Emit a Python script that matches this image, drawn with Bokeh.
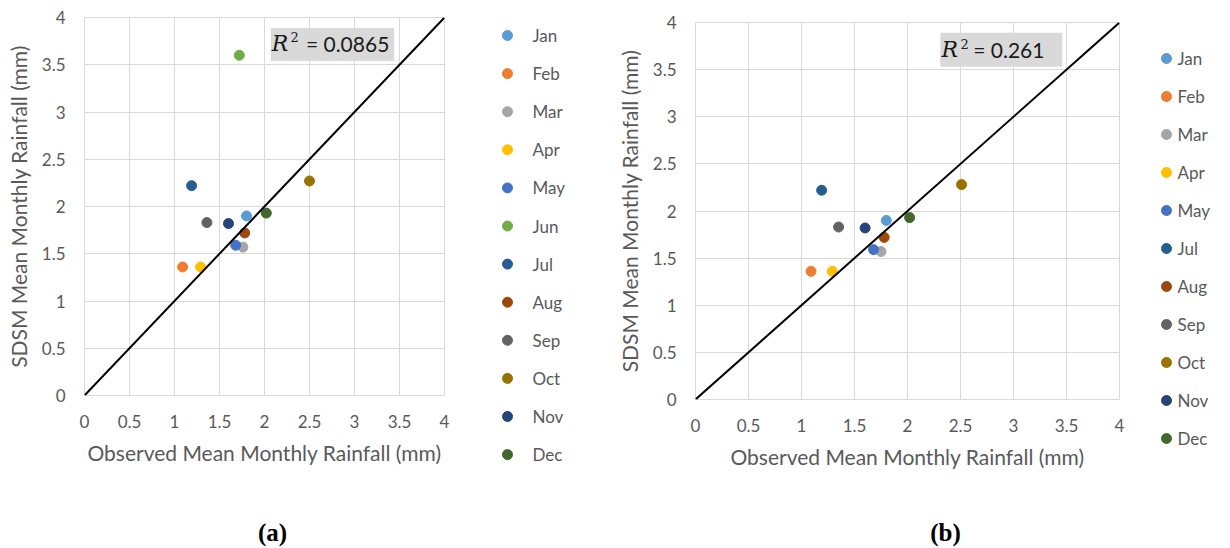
from bokeh.plotting import figure
from bokeh.models import FixedTicker, Slope, BoxAnnotation, Label, Range1d
from bokeh.layouts import column, row
from bokeh.embed import file_html
from bokeh.resources import INLINE
from bokeh.core.properties import value

# ---------------- data ----------------
months = ["Jan", "Feb", "Mar", "Apr", "May", "Jun", "Jul", "Aug", "Sep", "Oct", "Nov", "Dec"]
month_colors = ["#5B9BD5", "#ED7D31", "#A5A5A5", "#FFC000", "#4472C4", "#70AD47",
                "#255E91", "#9E480E", "#636363", "#997300", "#264478", "#43682B"]

# panel (a)
obs_a = [1.80, 1.09, 1.76, 1.29, 1.68, 1.72, 1.19, 1.78, 1.36, 2.50, 1.60, 2.02]
sdsm_a = [1.90, 1.36, 1.57, 1.36, 1.59, 3.60, 2.22, 1.72, 1.83, 2.27, 1.82, 1.93]
r2_a = "0.0865"

# panel (b) (no June)
months_b = ["Jan", "Feb", "Mar", "Apr", "May", "Jul", "Aug", "Sep", "Oct", "Nov", "Dec"]
obs_b = [1.80, 1.09, 1.75, 1.29, 1.68, 1.19, 1.78, 1.35, 2.51, 1.60, 2.02]
sdsm_b = [1.90, 1.36, 1.57, 1.36, 1.59, 2.22, 1.72, 1.83, 2.28, 1.82, 1.93]
r2_b = "0.261"

tick_values = [0, 0.5, 1, 1.5, 2, 2.5, 3, 3.5, 4]
tick_labels = ["0", "0.5", "1", "1.5", "2", "2.5", "3", "3.5", "4"]
x_title = "Observed Mean Monthly Rainfall (mm)"
y_title = "SDSM Mean Monthly Rainfall (mm)"
panel_labels = ["(a)", "(b)"]

GRAY_TXT = "#595959"
GRID = "#D9D9D9"
H = 484


def make_panel(width, bl, br, bt, bb, mlist, xs, ys, r2, box, rpos):
    p = figure(width=width, height=H, x_range=Range1d(0, 4), y_range=Range1d(0, 4),
               toolbar_location=None, output_backend="svg", frame_align=False,
               min_border_left=bl, min_border_right=br, min_border_top=bt, min_border_bottom=bb)
    p.background_fill_color = "white"
    p.border_fill_color = "white"
    p.outline_line_color = GRID
    p.outline_line_width = 1
    overrides = {v: l for v, l in zip(tick_values, tick_labels)}
    for ax in (p.xaxis[0], p.yaxis[0]):
        ax.ticker = FixedTicker(ticks=tick_values)
        ax.major_label_overrides = overrides
        ax.axis_line_color = None
        ax.major_tick_line_color = None
        ax.minor_tick_line_color = None
        ax.major_tick_out = 0
        ax.major_tick_in = 0
        ax.major_label_text_font = "Lato"
        ax.major_label_text_font_size = "17px"
        ax.major_label_text_color = GRAY_TXT
        ax.axis_label_text_font = "Lato"
        ax.axis_label_text_font_size = "21px"
        ax.axis_label_text_font_style = "normal"
        ax.axis_label_text_color = GRAY_TXT
    p.xaxis.axis_label = x_title
    p.yaxis.axis_label = y_title
    p.xaxis.major_label_standoff = 19
    p.yaxis.major_label_standoff = 19
    p.xaxis.axis_label_standoff = 9
    p.yaxis.axis_label_standoff = 8
    p.grid.grid_line_color = GRID
    p.grid.grid_line_width = 1

    p.add_layout(Slope(gradient=1, y_intercept=0, line_color="black", line_width=2))

    for m, x, y in zip(mlist, xs, ys):
        c = month_colors[months.index(m)]
        p.scatter([x], [y], size=10, marker="circle", fill_color=c, line_color=c)

    p.add_layout(BoxAnnotation(left=box[0], right=box[1], bottom=box[2], top=box[3],
                               fill_color=GRID, fill_alpha=1, line_color=None))
    p.add_layout(Label(x=rpos[0], y=rpos[3], text="R", text_font="DejaVu Serif",
                       text_font_style="italic", text_font_size="22px",
                       text_baseline="middle", text_color="#1a1a1a"))
    p.add_layout(Label(x=rpos[1], y=rpos[4], text="2", text_font="DejaVu Serif",
                       text_font_size="13px", text_baseline="middle", text_color="#1a1a1a"))
    p.add_layout(Label(x=rpos[2], y=rpos[3], text="= " + r2, text_font="Lato",
                       text_font_size="21px", text_baseline="middle", text_color="#1a1a1a"))
    return p


def make_legend(x0, x1, mx, tx, y0, step, mlist):
    lf = figure(width=x1 - x0, height=H, x_range=Range1d(x0, x1), y_range=Range1d(H, 0),
                toolbar_location=None, output_backend="svg", min_border=0, frame_align=False,
                x_axis_location=None, y_axis_location=None)
    lf.grid.visible = False
    lf.outline_line_color = None
    ys = [y0 + i * step for i in range(len(mlist))]
    cols = [month_colors[months.index(m)] for m in mlist]
    lf.scatter([mx] * len(mlist), ys, size=10, marker="circle", fill_color=cols, line_color=cols)
    lf.text([tx] * len(mlist), ys, text=mlist, text_font=value("Lato"), text_font_size="17px",
            text_color=GRAY_TXT, text_baseline="middle", text_align="left")
    return lf


p1 = make_panel(454, 84, 10, 17, 89, months, obs_a, sdsm_a, r2_a,
                (2.07, 3.44, 3.54, 3.89), (2.08, 2.29, 2.46, 3.72, 3.79))
leg1 = make_legend(454, 600, 507, 532, 35, 38.1, months)
p2 = make_panel(529, 95, 10, 22, 85, months_b, obs_b, sdsm_b, r2_b,
                (2.31, 3.46, 3.53, 3.89), (2.32, 2.50, 2.62, 3.71, 3.77))
leg2 = make_legend(1129, 1222, 1166, 1177, 58, 38.0, months_b)

strip = figure(width=1222, height=64, x_range=Range1d(0, 1222), y_range=Range1d(0, 64),
               toolbar_location=None, output_backend="svg", min_border=0, frame_align=False,
               x_axis_location=None, y_axis_location=None)
strip.grid.visible = False
strip.outline_line_color = None
strip.text(x=[272, 945], y=[16, 16], text=panel_labels, text_font=value("Liberation Serif"),
           text_font_style="bold", text_font_size="25px", text_align="center",
           text_baseline="middle", text_color="black")

layout = column(row(p1, leg1, p2, leg2), strip)
open("out.html", "w").write(file_html(layout, INLINE))
